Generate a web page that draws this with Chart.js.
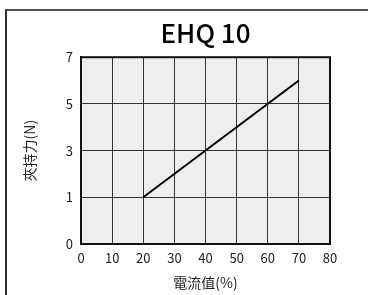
<!DOCTYPE html>
<html>
<head>
<meta charset="utf-8">
<script src="https://cdn.jsdelivr.net/npm/chart.js@4"></script>
<style>
  html, body { margin: 0; padding: 0; background: #fff; }
  .wrap { position: relative; width: 368px; height: 295px; overflow: hidden; }
  .frame {
    position: absolute; left: 5px; top: 9px; width: 420px; height: 400px;
    border-top: 2px solid #505050; border-left: 2px solid #303030;
  }
  canvas { position: absolute; left: 0; top: 0; }
</style>
</head>
<body>
<div class="wrap">
  <div class="frame"></div>
  <canvas id="chart" width="368" height="295"></canvas>
</div>
<script>
// values
const currentPct = [20, 70];       // 電流值(%)
const forceN = [1, 6];             // 夾持力(N)
const yTickValues = [0, 1, 3, 5, 7]; // y ticks are evenly spaced, not linear
const xMin = 0, xMax = 80, xStep = 10;

const FONT = "'Noto Sans CJK TC', 'Noto Sans', sans-serif";

// position on the evenly spaced y axis for a force value
function forceToPos(v) {
    for (let i = 0; i < yTickValues.length - 1; i++) {
        const a = yTickValues[i], b = yTickValues[i + 1];
        if (v >= a && v <= b) return i + (v - a) / (b - a);
    }
    return yTickValues.length - 1;
}

const points = currentPct.map((x, i) => ({ x: x, y: forceToPos(forceN[i]) }));

const plotBg = {
    id: 'plotBg',
    beforeDraw(chart) {
        const { ctx, chartArea: a } = chart;
        ctx.save();
        ctx.fillStyle = '#eeeeee';
        ctx.fillRect(a.left, a.top, a.right - a.left, a.bottom - a.top);
        ctx.restore();
    }
};

new Chart(document.getElementById('chart'), {
    type: 'line',
    data: {
        datasets: [{
            data: points,
            borderColor: '#000',
            borderWidth: 2,
            pointRadius: 0,
            fill: false,
            tension: 0
        }]
    },
    options: {
        responsive: false,
        animation: false,
        layout: { padding: { left: 18, right: 38, top: 0, bottom: 0 } },
        plugins: {
            legend: { display: false },
            tooltip: { enabled: false },
            title: {
                display: true,
                fullSize: false,   // center over the plot, not the canvas
                text: 'EHQ 10',
                color: '#000',
                font: { family: FONT, size: 26, weight: 500 },
                padding: { top: 18, bottom: 8 }
            }
        },
        scales: {
            x: {
                type: 'linear',
                min: xMin,
                max: xMax,
                afterFit(scale) { scale.height = 51; },
                ticks: {
                    stepSize: xStep,
                    color: '#222',
                    padding: 6,
                    font: { family: FONT, size: 13 }
                },
                grid: { color: '#333', lineWidth: 1, drawTicks: false },
                border: { color: '#111', width: 2 },
                title: {
                    display: true,
                    text: '電流值(%)',
                    color: '#222',
                    font: { family: FONT, size: 14 },
                    padding: { top: 0, bottom: 4 }
                }
            },
            y: {
                type: 'linear',
                min: 0,
                max: yTickValues.length - 1,
                afterFit(scale) { scale.width = 63; },
                ticks: {
                    stepSize: 1,
                    color: '#222',
                    padding: 8,
                    font: { family: FONT, size: 13 },
                    callback: (value) => yTickValues[value]
                },
                grid: { color: '#333', lineWidth: 1, drawTicks: false },
                border: { color: '#111', width: 2 },
                title: {
                    display: true,
                    text: '夾持力(N)',
                    color: '#222',
                    font: { family: FONT, size: 14 },
                    padding: { top: 3, bottom: 0 }
                }
            }
        }
    },
    plugins: [plotBg, {
        id: 'plotBorder',
        afterDraw(chart) {
            const { ctx, chartArea: a } = chart;
            ctx.save();
            ctx.strokeStyle = '#111';
            ctx.lineWidth = 2;
            ctx.strokeRect(a.left, a.top, a.right - a.left, a.bottom - a.top);
            ctx.restore();
        }
    }]
});
</script>
</body>
</html>
